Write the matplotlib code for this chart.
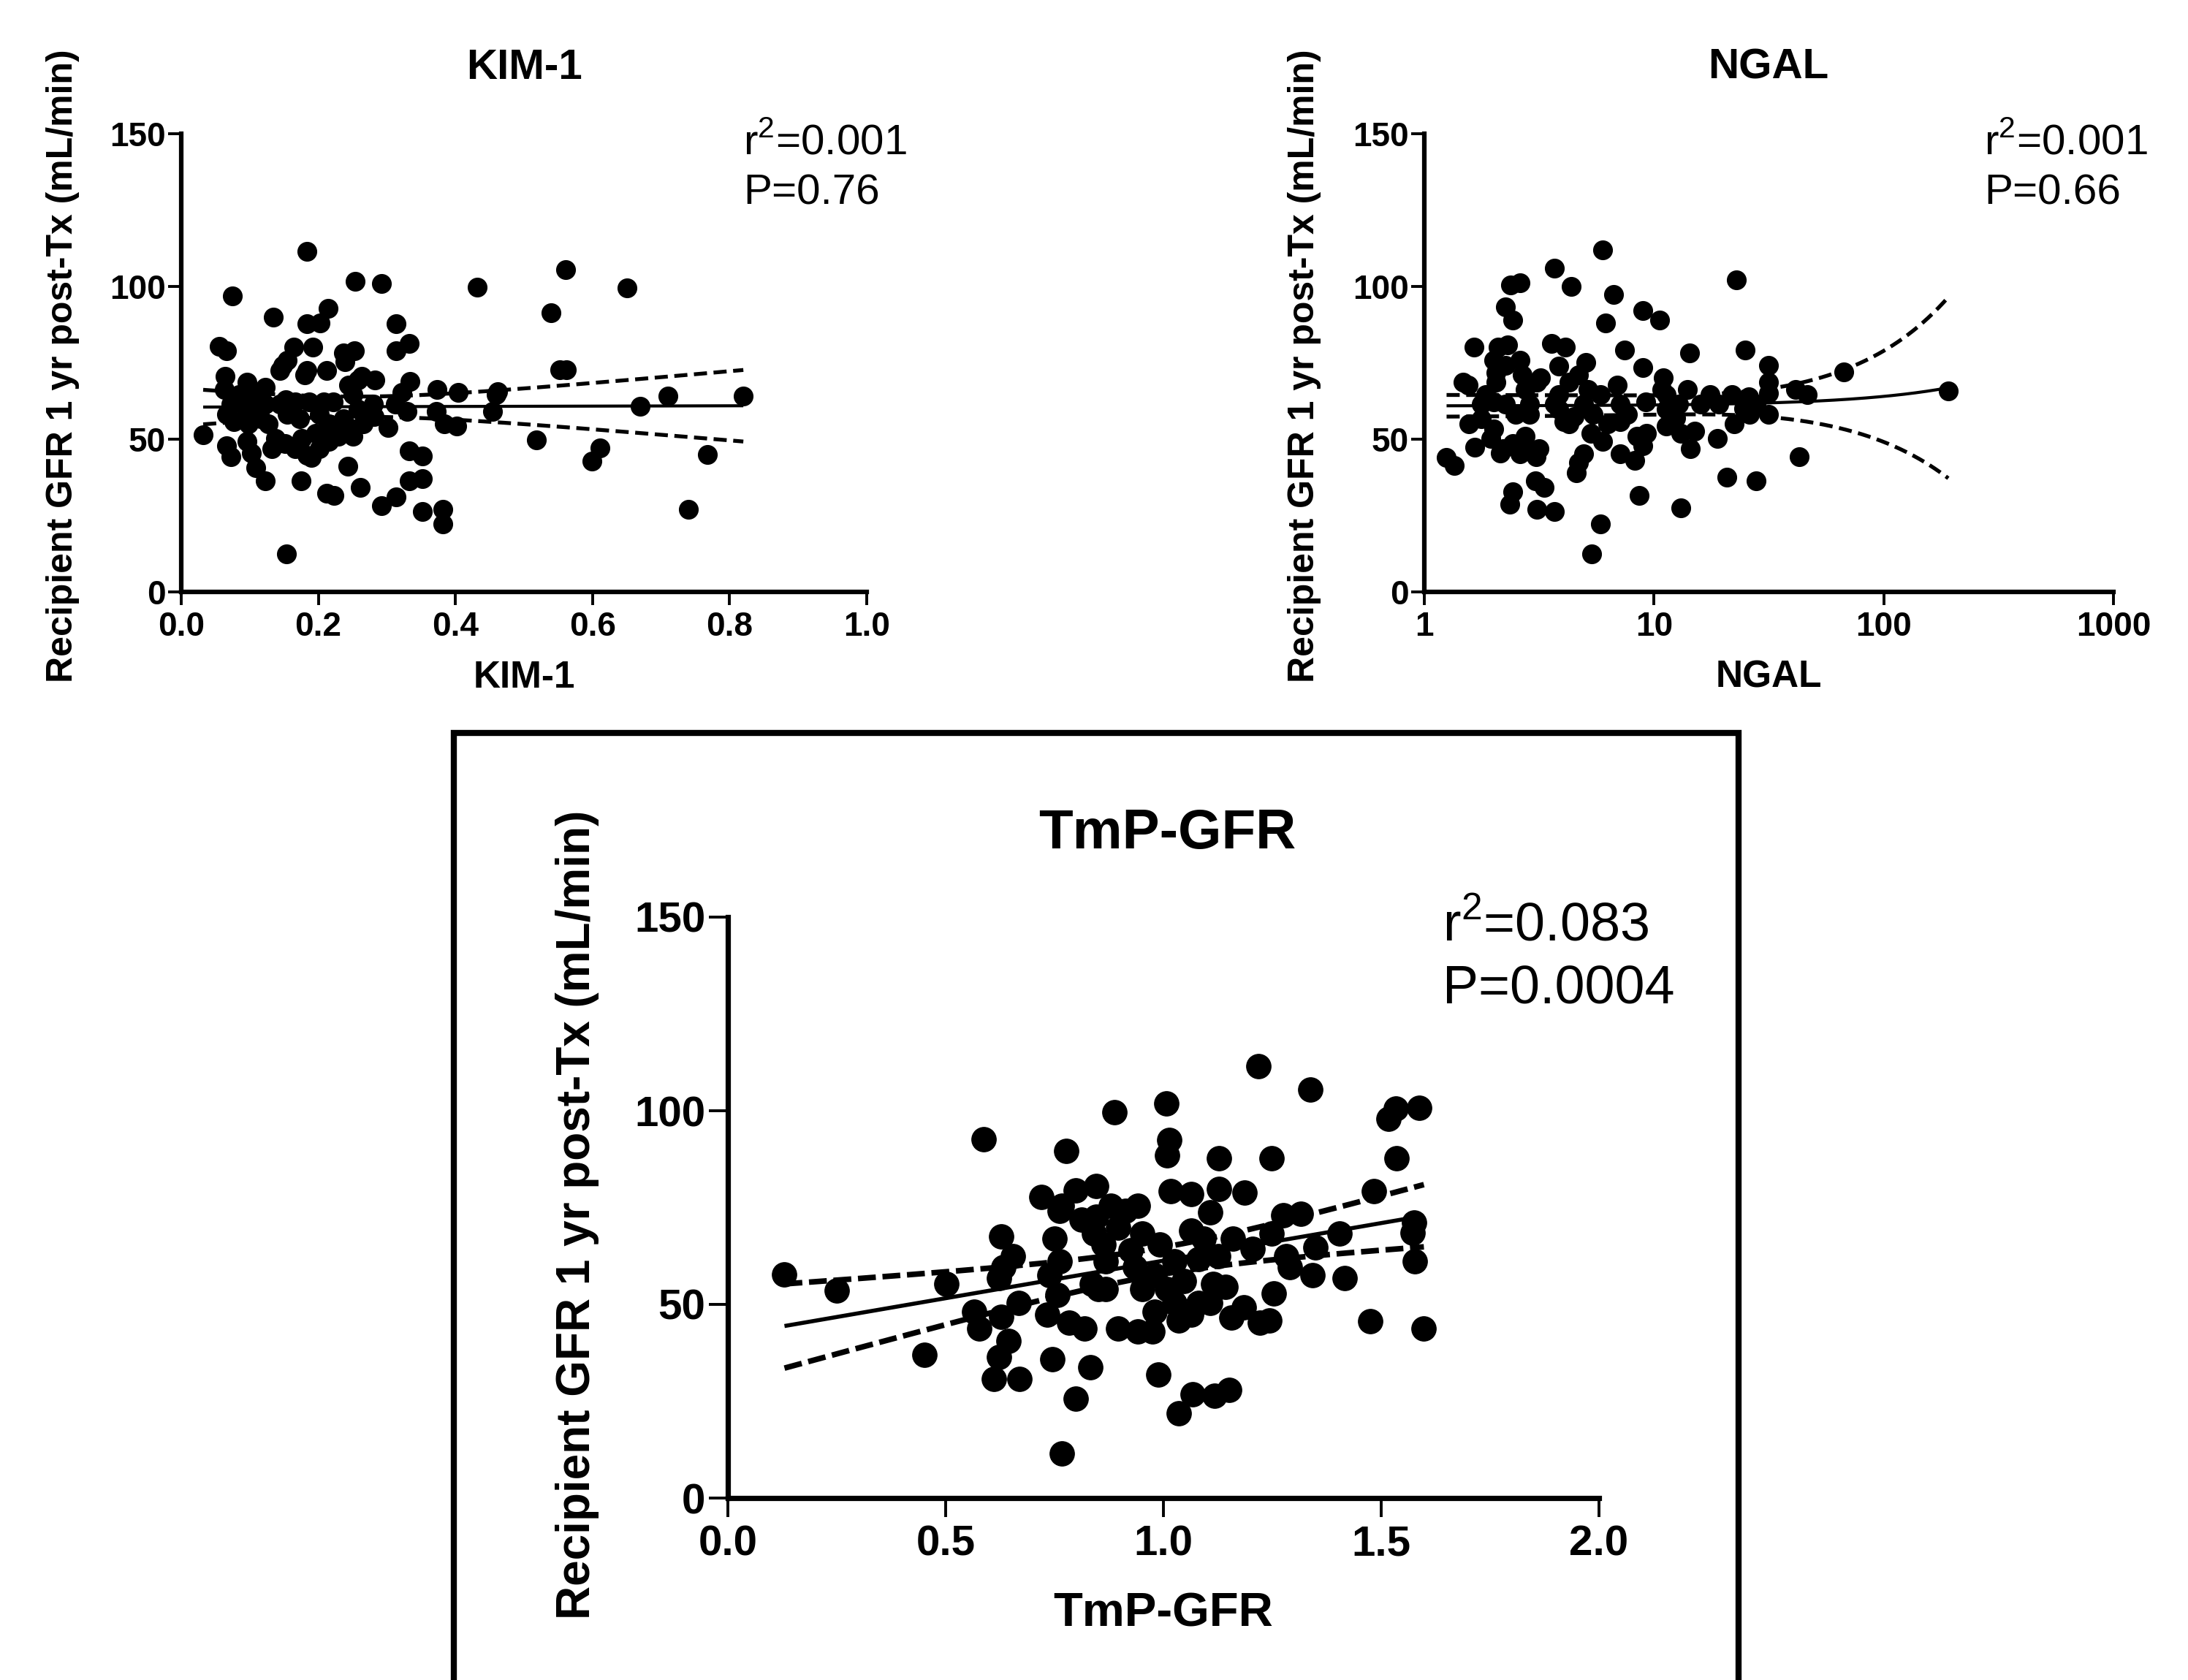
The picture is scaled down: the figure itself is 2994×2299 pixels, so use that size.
import numpy as np
import matplotlib
matplotlib.use("Agg")
import matplotlib.pyplot as plt
from matplotlib.patches import Rectangle
from matplotlib.ticker import NullLocator

plt.rcParams['font.family'] = ['Liberation Sans', 'DejaVu Sans']
plt.rcParams['mathtext.fontset'] = 'custom'
plt.rcParams['mathtext.rm'] = 'Liberation Sans'

# ---------------- data ----------------
kim_x = [0.183,0.075,0.254,0.292,0.432,0.134,0.183,0.203,0.214,0.313,
         0.055,0.066,0.164,0.192,0.237,0.253,0.313,0.333,0.148,0.183,
         0.212,0.239,0.064,0.263,0.283,0.334,0.373,0.404,0.462,0.454,
         0.032,0.066,0.073,0.096,0.109,0.084,0.073,0.091,0.109,0.077,
         0.098,0.116,0.123,0.096,0.102,0.109,0.123,0.132,0.151,0.166,
         0.183,0.190,0.176,0.196,0.144,0.155,0.180,0.152,0.166,0.187,
         0.155,0.173,0.201,0.215,0.229,0.215,0.237,0.251,0.258,0.251,
         0.244,0.258,0.265,0.243,0.175,0.212,0.223,0.261,0.292,0.313,
         0.333,0.352,0.333,0.352,0.352,0.382,0.382,0.154,0.302,0.384,
         0.402,0.372,0.322,0.329,0.280,0.144,0.123,0.094,0.066,0.063,
         0.222,0.208,0.127,0.229,0.251,0.201,0.137,0.281,0.312,
         0.561,0.650,0.539,0.552,0.562,0.460,0.669,0.710,0.820,0.518,0.599,0.611,0.768,0.740]
kim_y = [111.6,96.9,101.7,100.9,99.7,89.9,87.9,88.1,92.9,87.9,
         80.5,78.9,80.2,80.2,78.2,78.9,78.9,81.3,74.2,72.6,
         72.4,75.3,70.6,70.6,69.4,69.0,66.2,65.4,65.6,59.0,
         51.4,47.8,44.3,68.6,65.4,64.6,61.4,61.4,59.8,55.8,
         55.0,56.6,66.9,49.4,45.5,40.7,36.3,47.0,48.6,47.0,
         44.7,43.9,50.2,51.8,72.6,75.8,71.0,63.0,62.2,62.2,
         58.2,56.6,58.2,55.0,51.0,49.4,56.6,53.4,59.8,64.6,
         67.8,69.4,55.0,41.1,36.3,32.3,31.5,34.3,28.3,31.1,
         46.2,44.6,36.3,37.1,26.3,27.1,22.3,12.4,53.8,55.0,
         54.2,59.0,65.4,59.0,61.4,61.4,61.4,58.2,58.2,66.2,
         62.2,62.2,55.0,53.4,51.0,47.0,50.2,57.4,61.4,
         105.5,99.6,91.5,72.8,72.8,64.7,60.8,64.2,64.0,49.8,42.8,47.2,45.0,27.0]

ngal_x = [5.99,3.68,4.36,2.37,2.61,2.26,2.43,6.68,6.14,8.96,
          10.6,22.9,1.64,2.10,2.31,3.59,4.10,7.46,14.3,25.0,
          31.5,8.96,11.0,5.05,3.86,2.61,2.05,1.47,1.55,3.10,
          4.69,6.93,31.5,41.2,67.0,14.0,17.5,21.9,25.9,27.9,
          31.5,22.4,18.9,42.8,20.8,27.9,13.1,8.64,5.85,5.37,
          1.25,1.35,1.66,1.56,2.15,2.43,2.61,3.06,2.43,2.35,
          3.04,3.33,3.10,3.68,4.58,4.69,4.93,5.30,5.99,6.28,
          7.11,8.22,8.96,9.30,8.40,7.11,7.64,5.85,5.16,4.26,
          3.86,3.68,4.06,3.86,4.48,4.93,5.43,4.26,2.74,2.88,
          2.88,2.49,2.26,2.00,2.05,2.00,2.26,1.77,2.00,1.95,
          2.20,3.17,2.81,3.20,2.67,11.3,11.3,12.8,12.4,11.3,
          13.1,14.4,15.0,7.10,9.20,10.8,15.9,19.2,24.7,31.5,
          24.5,26.0,1.77,1.85,2.74,191.0,46.5]
ngal_y = [112.0,106.1,100.1,100.5,101.3,93.3,88.9,97.3,88.1,92.1,
          88.9,102.1,80.1,80.1,80.9,81.3,80.1,79.3,78.2,79.3,
          74.2,73.4,70.2,75.0,73.9,75.8,71.8,68.6,67.8,68.6,
          71.0,67.8,68.6,66.2,72.1,66.2,64.6,64.6,63.8,61.4,
          58.2,55.0,50.2,44.3,37.5,36.3,27.5,31.5,22.3,12.4,
          44.0,41.5,47.4,55.0,45.5,48.6,45.2,44.3,32.7,28.7,
          36.3,34.3,27.1,26.3,39.1,42.3,45.2,51.8,49.4,55.0,
          45.2,43.1,47.8,51.8,51.0,61.4,58.2,64.6,66.2,68.6,
          64.6,61.4,55.8,59.8,57.4,61.4,58.2,55.0,66.2,61.4,
          58.2,58.2,61.4,62.2,68.6,75.8,74.2,56.6,53.4,50.2,
          47.0,47.0,46.2,70.2,71.0,64.6,59.8,61.4,57.0,54.2,
          51.8,47.0,52.6,55.8,62.2,66.2,61.4,61.4,61.4,65.0,
          60.0,58.2,61.4,64.6,51.0,65.9,64.7]

tmp_x = [0.130,0.250,0.588,0.777,0.720,0.799,0.845,0.762,0.750,0.812,
         0.628,0.655,0.633,0.622,0.502,0.566,0.577,0.628,0.667,0.644,
         0.622,0.611,0.670,0.451,0.745,0.832,0.799,0.767,0.734,0.756,
         0.784,0.818,0.739,0.762,0.767,0.840,0.851,
         1.218,1.338,0.888,1.007,1.013,1.008,1.128,1.248,1.517,1.533,
         1.587,1.536,1.483,1.576,1.578,1.598,1.475,1.416,1.405,1.343,
         1.349,1.315,1.276,1.290,1.248,1.254,1.243,1.221,1.187,1.184,
         1.156,1.128,1.108,1.064,1.016,1.092,1.126,1.114,1.142,1.081,
         1.036,0.974,0.941,0.896,0.988,1.067,1.117,1.151,1.036,
         0.913,0.941,0.896,0.952,0.991,1.025,0.980,0.952,1.008,1.047,
         1.025,0.980,0.868,0.835,0.846,0.879,0.862,0.924,1.081,1.159,
         1.204,1.282,0.868,0.935,1.064,1.108,1.064,1.572]
tmp_y = [57.8,53.5,92.7,89.6,77.7,79.5,80.6,74.1,66.9,71.9,
         67.6,62.5,59.7,56.8,55.3,48.1,43.8,46.7,50.3,40.5,
         36.5,30.8,30.8,36.9,35.8,33.7,25.7,11.6,47.4,52.4,
         45.2,43.8,57.5,61.1,75.5,68.3,53.9,
         111.6,105.5,99.7,101.8,92.5,88.5,87.8,87.8,97.9,100.5,
         100.8,87.8,79.2,71.1,61.1,43.8,45.6,56.8,68.3,57.5,
         64.7,73.4,73.0,59.7,68.3,52.8,45.9,45.2,78.8,49.2,
         46.6,79.9,73.7,78.4,79.2,66.9,62.5,55.3,54.6,50.3,
         45.9,43.1,43.1,43.8,31.9,26.8,26.5,27.9,21.8,
         74.1,75.5,69.8,68.3,65.4,61.1,57.5,53.9,53.9,56.0,
         50.3,48.1,53.9,55.3,72.7,75.5,65.4,64.0,61.7,66.9,
         64.3,62.5,61.1,59.7,69.0,50.3,47.3,68.5]

titles = ["KIM-1", "NGAL", "TmP-GFR"]
stats = [("r$^{2}$=0.001", "P=0.76"), ("r$^{2}$=0.001", "P=0.66"), ("r$^{2}$=0.083", "P=0.0004")]
ylab = "Recipient GFR 1 yr post-Tx (mL/min)"
yticks = [0, 50, 100, 150]

W, H = 2994, 2299
fig = plt.figure(figsize=(W / 100, H / 100), dpi=100)


def fx(px):
    return px / W


def fy(py):
    return 1 - py / H


def linfit(x, y, xx):
    x = np.asarray(x, float)
    y = np.asarray(y, float)
    n = len(x)
    b, a = np.polyfit(x, y, 1)
    res = y - (a + b * x)
    s = np.sqrt(np.sum(res ** 2) / (n - 2))
    sxx = np.sum((x - x.mean()) ** 2)
    yy = a + b * xx
    se = s * np.sqrt(1.0 / n + (xx - x.mean()) ** 2 / sxx)
    t = 1.98
    return yy, yy - t * se, yy + t * se


def style_axes(ax, tick_fs, tick_len, pad_x, pad_y, spine_w):
    for s in ['top', 'right']:
        ax.spines[s].set_visible(False)
    for s in ['left', 'bottom']:
        ax.spines[s].set_linewidth(spine_w)
        ax.spines[s].set_capstyle('projecting')
    ax.set_ylim(0, 150)
    ax.set_yticks(yticks)
    ax.tick_params(axis='both', direction='out', length=tick_len, width=2.8, color='black')
    ax.tick_params(axis='x', pad=pad_x)
    ax.tick_params(axis='y', pad=pad_y)
    for lab in ax.get_xticklabels() + ax.get_yticklabels():
        lab.set_fontsize(tick_fs)
        lab.set_fontweight('bold')
    ax.patch.set_alpha(0)


# ---------- KIM-1 ----------
ax1 = fig.add_axes([fx(248), fy(810), fx(938), 627 / H])
ax1.set_xlim(0, 1.0)
ax1.set_xticks([0.0, 0.2, 0.4, 0.6, 0.8, 1.0])
ax1.set_xticklabels(['0.0', '0.2', '0.4', '0.6', '0.8', '1.0'])
xx = np.linspace(min(kim_x), max(kim_x), 200)
yy, lo, hi = linfit(kim_x, kim_y, xx)
ax1.plot(xx, yy, color='black', lw=3.0, solid_capstyle='butt')
ax1.plot(xx, lo, color='black', lw=3.8, dashes=(3.4, 1.7))
ax1.plot(xx, hi, color='black', lw=3.8, dashes=(3.4, 1.7))
ax1.plot(kim_x, kim_y, 'o', ms=18.5, color='black', mec='black', clip_on=False, zorder=3)
style_axes(ax1, 33, 13, 5.5, 2.0, 4.5)

# ---------- NGAL ----------
ax2 = fig.add_axes([fx(1949), fy(810), fx(943), 627 / H])
ax2.set_xscale('log')
ax2.set_xlim(1, 1000)
ax2.set_xticks([1, 10, 100, 1000])
ax2.set_xticklabels(['1', '10', '100', '1000'])
ax2.xaxis.set_minor_locator(NullLocator())
xx = np.geomspace(min(ngal_x), max(ngal_x), 400)
yy, lo, hi = linfit(ngal_x, ngal_y, xx)
ax2.plot(xx, yy, color='black', lw=3.0, solid_capstyle='butt')
ax2.plot(xx, lo, color='black', lw=3.8, dashes=(3.4, 1.7))
ax2.plot(xx, hi, color='black', lw=3.8, dashes=(3.4, 1.7))
ax2.plot(ngal_x, ngal_y, 'o', ms=18.5, color='black', mec='black', clip_on=False, zorder=3)
style_axes(ax2, 33, 13, 5.5, 2.0, 4.5)

# ---------- TmP-GFR ----------
ax3 = fig.add_axes([fx(996), fy(2050), fx(1192), 795 / H])
ax3.set_xlim(0, 2.0)
ax3.set_xticks([0.0, 0.5, 1.0, 1.5, 2.0])
ax3.set_xticklabels(['0.0', '0.5', '1.0', '1.5', '2.0'])
xx = np.linspace(min(tmp_x), max(tmp_x), 200)
yy, lo, hi = linfit(tmp_x, tmp_y, xx)
ax3.plot(xx, yy, color='black', lw=4.0, solid_capstyle='butt')
ax3.plot(xx, lo, color='black', lw=5.5, dashes=(3.2, 1.2))
ax3.plot(xx, hi, color='black', lw=5.5, dashes=(3.2, 1.2))
ax3.plot(tmp_x, tmp_y, 'o', ms=24, color='black', mec='black', clip_on=False, zorder=3)
style_axes(ax3, 42, 19, 7, 3.0, 5.2)

# ---------- texts ----------
# titles
fig.text(fx(717), fy(108), titles[0], ha='center', va='baseline', fontsize=42, fontweight='bold')
fig.text(fx(2420), fy(108), titles[1], ha='center', va='baseline', fontsize=42, fontweight='bold')
fig.text(fx(1597), fy(1161), titles[2], ha='center', va='baseline', fontsize=55, fontweight='bold')
# x labels
fig.text(fx(717), fy(941), titles[0], ha='center', va='baseline', fontsize=37, fontweight='bold')
fig.text(fx(2420), fy(941), titles[1], ha='center', va='baseline', fontsize=37, fontweight='bold')
fig.text(fx(1592), fy(2225), titles[2], ha='center', va='baseline', fontsize=47, fontweight='bold')
# y labels
fig.text(fx(86), fy(501), ylab, rotation=90, ha='center', va='center', fontsize=36, fontweight='bold')
fig.text(fx(1785), fy(501), ylab, rotation=90, ha='center', va='center', fontsize=36, fontweight='bold')
fig.text(fx(790), fy(1662), ylab, rotation=90, ha='center', va='center', fontsize=46, fontweight='bold')
# stats
fig.text(fx(1017), fy(212), stats[0][0], ha='left', va='baseline', fontsize=42)
fig.text(fx(1017), fy(279), stats[0][1], ha='left', va='baseline', fontsize=42)
fig.text(fx(2715), fy(212), stats[1][0], ha='left', va='baseline', fontsize=42)
fig.text(fx(2715), fy(279), stats[1][1], ha='left', va='baseline', fontsize=42)
fig.text(fx(1974), fy(1287), stats[2][0], ha='left', va='baseline', fontsize=53)
fig.text(fx(1974), fy(1374), stats[2][1], ha='left', va='baseline', fontsize=53)

# frame around the bottom panel
fig.patches.append(Rectangle((fx(621), -0.05), fx(2379 - 621), fy(1003) + 0.05,
                             transform=fig.transFigure, fill=False, edgecolor='black',
                             lw=6.0, zorder=0))

fig.savefig("out.png", dpi=100)
